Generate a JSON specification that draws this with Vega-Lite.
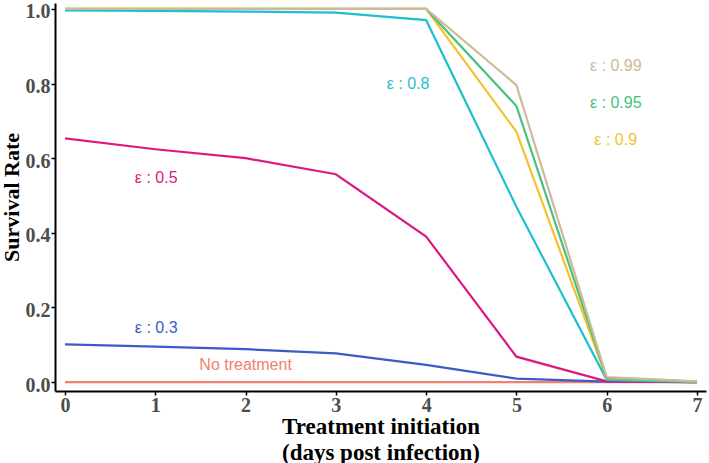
{
  "$schema": "https://vega.github.io/schema/vega-lite/v6.json",
  "width": 651,
  "height": 388,
  "autosize": {"type": "none"},
  "padding": {"left": 55, "top": 3, "right": 3, "bottom": 72},
  "background": "white",
  "config": {"view": {"stroke": null}},
  "datasets": {
    "lines": [
      {"series": "none", "day": 0, "rate": 0}, {"series": "none", "day": 1, "rate": 0}, {"series": "none", "day": 2, "rate": 0}, {"series": "none", "day": 3, "rate": 0}, {"series": "none", "day": 4, "rate": 0}, {"series": "none", "day": 5, "rate": 0}, {"series": "none", "day": 6, "rate": 0}, {"series": "none", "day": 7, "rate": 0},
      {"series": "0.3", "day": 0, "rate": 0.101}, {"series": "0.3", "day": 1, "rate": 0.095}, {"series": "0.3", "day": 2, "rate": 0.088}, {"series": "0.3", "day": 3, "rate": 0.077}, {"series": "0.3", "day": 4, "rate": 0.046}, {"series": "0.3", "day": 5, "rate": 0.009}, {"series": "0.3", "day": 6, "rate": 0.001}, {"series": "0.3", "day": 7, "rate": 0},
      {"series": "0.5", "day": 0, "rate": 0.653}, {"series": "0.5", "day": 1, "rate": 0.624}, {"series": "0.5", "day": 2, "rate": 0.6}, {"series": "0.5", "day": 3, "rate": 0.557}, {"series": "0.5", "day": 4, "rate": 0.39}, {"series": "0.5", "day": 5, "rate": 0.068}, {"series": "0.5", "day": 6, "rate": 0.002}, {"series": "0.5", "day": 7, "rate": 0},
      {"series": "0.8", "day": 0, "rate": 0.996}, {"series": "0.8", "day": 1, "rate": 0.995}, {"series": "0.8", "day": 2, "rate": 0.993}, {"series": "0.8", "day": 3, "rate": 0.99}, {"series": "0.8", "day": 4, "rate": 0.97}, {"series": "0.8", "day": 5, "rate": 0.47}, {"series": "0.8", "day": 6, "rate": 0.006}, {"series": "0.8", "day": 7, "rate": 0},
      {"series": "0.9", "day": 0, "rate": 1.0}, {"series": "0.9", "day": 1, "rate": 1.0}, {"series": "0.9", "day": 2, "rate": 1.0}, {"series": "0.9", "day": 3, "rate": 1.0}, {"series": "0.9", "day": 4, "rate": 1.0}, {"series": "0.9", "day": 5, "rate": 0.671}, {"series": "0.9", "day": 6, "rate": 0.01}, {"series": "0.9", "day": 7, "rate": 0.001},
      {"series": "0.95", "day": 0, "rate": 1.0}, {"series": "0.95", "day": 1, "rate": 1.0}, {"series": "0.95", "day": 2, "rate": 1.0}, {"series": "0.95", "day": 3, "rate": 1.0}, {"series": "0.95", "day": 4, "rate": 1.0}, {"series": "0.95", "day": 5, "rate": 0.74}, {"series": "0.95", "day": 6, "rate": 0.011}, {"series": "0.95", "day": 7, "rate": 0.001},
      {"series": "0.99", "day": 0, "rate": 1.0}, {"series": "0.99", "day": 1, "rate": 1.0}, {"series": "0.99", "day": 2, "rate": 1.0}, {"series": "0.99", "day": 3, "rate": 1.0}, {"series": "0.99", "day": 4, "rate": 1.0}, {"series": "0.99", "day": 5, "rate": 0.796}, {"series": "0.99", "day": 6, "rate": 0.013}, {"series": "0.99", "day": 7, "rate": 0.002}
    ],
    "labels": [
      {"series": "none", "text": "No treatment", "day": 2.0, "rate": 0.046},
      {"series": "0.3", "text": "ε : 0.3", "day": 1.01, "rate": 0.145},
      {"series": "0.5", "text": "ε : 0.5", "day": 1.01, "rate": 0.547},
      {"series": "0.8", "text": "ε : 0.8", "day": 3.8, "rate": 0.799},
      {"series": "0.9", "text": "ε : 0.9", "day": 6.1, "rate": 0.649},
      {"series": "0.95", "text": "ε : 0.95", "day": 6.1, "rate": 0.748},
      {"series": "0.99", "text": "ε : 0.99", "day": 6.1, "rate": 0.847}
    ]
  },
  "encoding": {
    "x": {
      "field": "day", "type": "quantitative",
      "scale": {"domain": [-0.111, 7.1], "nice": false, "zero": false},
      "axis": {
        "values": [0, 1, 2, 3, 4, 5, 6, 7], "format": "d", "grid": false,
        "domainColor": "black", "domainWidth": 2, "tickColor": "black", "tickWidth": 1.5, "tickSize": 4,
        "labelFont": "Liberation Serif", "labelFontWeight": "bold", "labelFontSize": 20, "labelColor": "#4D4D4D", "labelPadding": 0,
        "title": ["Treatment initiation", "(days post infection)"],
        "titleFont": "Liberation Serif", "titleFontWeight": "bold", "titleFontSize": 23, "titleColor": "black", "titlePadding": 0, "titleLineHeight": 26
      }
    },
    "y": {
      "field": "rate", "type": "quantitative",
      "scale": {"domain": [-0.024, 1.016], "nice": false, "zero": false},
      "axis": {
        "values": [0, 0.2, 0.4, 0.6, 0.8, 1.0], "format": ".1f", "grid": false,
        "domainColor": "black", "domainWidth": 2, "tickColor": "black", "tickWidth": 1.5, "tickSize": 4,
        "labelFont": "Liberation Serif", "labelFontWeight": "bold", "labelFontSize": 20, "labelColor": "#4D4D4D", "labelPadding": 1, "labelOffset": 3,
        "title": "Survival Rate",
        "titleFont": "Liberation Serif", "titleFontWeight": "bold", "titleFontSize": 22, "titleColor": "black", "titlePadding": 2
      }
    },
    "color": {
      "field": "series", "type": "nominal", "legend": null,
      "scale": {
        "domain": ["none", "0.3", "0.5", "0.8", "0.9", "0.95", "0.99"],
        "range": ["#F0806F", "#3B5BC6", "#DC1A80", "#1FC0CE", "#F5C12D", "#47C27A", "#CDBA9B"]
      }
    }
  },
  "layer": [
    {
      "data": {"name": "lines"},
      "mark": {"type": "line", "strokeWidth": 2.2, "clip": true},
      "encoding": {"detail": {"field": "series"}}
    },
    {
      "data": {"name": "labels"},
      "mark": {"type": "text", "font": "Liberation Sans", "fontSize": 16, "align": "center", "baseline": "middle"},
      "encoding": {"text": {"field": "text"}}
    }
  ]
}
